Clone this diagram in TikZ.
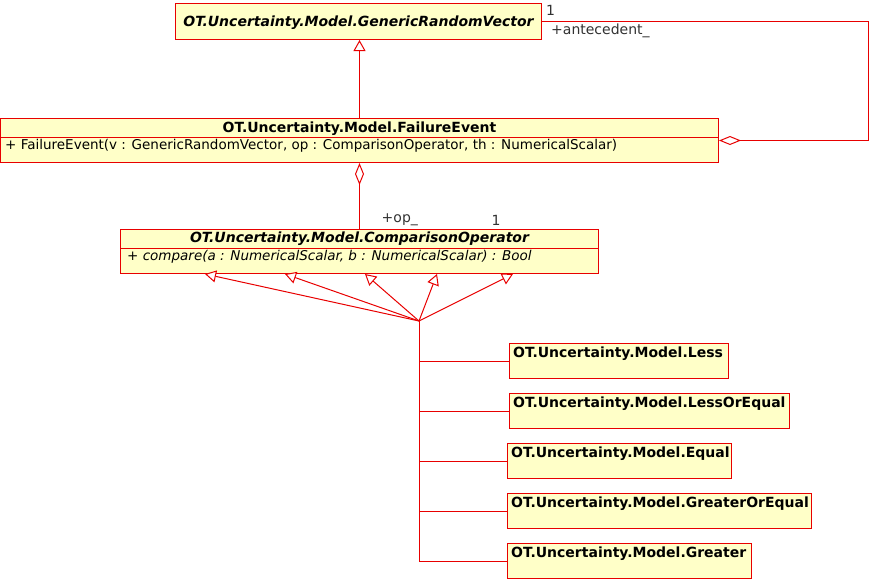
\documentclass[tikz,border=0pt]{standalone}
\usepackage{fontspec}
\setmainfont{DejaVu Sans}
\usetikzlibrary{arrows.meta, positioning, calc}
\definecolor{umlred}{RGB}{232, 0, 0}
\definecolor{umlfill}{RGB}{255, 255, 200}
\definecolor{rolegrey}{RGB}{50, 50, 50}

\tikzset{
  classbox/.style={draw=umlred, line width=1pt, fill=umlfill, rectangle, inner sep=0pt, anchor=north west},
  classname/.style={font=\bfseries\fontsize{14}{16}\selectfont, inner sep=0pt, anchor=base},
  absname/.style={font=\bfseries\itshape\fontsize{14}{16}\selectfont, inner sep=0pt, anchor=base},
  opname/.style={font=\fontsize{13.5}{16}\selectfont, inner sep=0pt, anchor=base west},
  rolelabel/.style={font=\fontsize{14}{16}\selectfont, text=rolegrey, inner sep=0pt},
  link/.style={draw=umlred, line width=1pt},
  gen/.style={link, -{Triangle[open, length=11pt, width=12pt, fill=white]}},
  aggr/.style={link, {Diamond[open, length=22pt, width=9pt, fill=white]}-}
}

\begin{document}
\begin{tikzpicture}[x=1pt, y=-1pt]
  \useasboundingbox (0,0) rectangle (870,579);

  % abstract base classes
  \node[classbox, minimum width=366pt, minimum height=36pt] (grv) at (175,3) {};
  \node[absname] at ($(grv.north)+(0,23)$) {OT.Uncertainty.Model.GenericRandomVector};

  \node[classbox, minimum width=718pt, minimum height=44pt] (fe) at (0,118) {};
  \draw[umlred, line width=1pt] ($(fe.north west)+(0,19)$) -- ($(fe.north east)+(0,19)$);
  \node[classname] at ($(fe.north)+(0,14)$) {OT.Uncertainty.Model.FailureEvent};
  \node[opname] at ($(fe.north west)+(5,31)$) {+ FailureEvent(v : GenericRandomVector, op : ComparisonOperator, th : NumericalScalar)};

  \node[classbox, minimum width=478pt, minimum height=44pt] (cmp) at (120,229) {};
  \draw[umlred, line width=1pt] ($(cmp.north west)+(0,19)$) -- ($(cmp.north east)+(0,19)$);
  \node[absname] at ($(cmp.north)+(0,13.5)$) {OT.Uncertainty.Model.ComparisonOperator};
  \node[opname, font=\itshape\fontsize{13.5}{16}\selectfont] at ($(cmp.north west)+(7,31)$) {+ compare(a : NumericalScalar, b : NumericalScalar) : Bool};

  % concrete operators
  \foreach \name/\x/\y/\w/\txt in {less/509/343/219/Less, leq/509/393/280/LessOrEqual,
      eq/507/443/224/Equal, geq/507/493/304/GreaterOrEqual, gt/507/543/244/Greater}{
    \node[classbox, minimum width=\w pt, minimum height=35pt] (\name) at (\x,\y) {};
    \node[classname, anchor=base west] at ($(\name.north west)+(4,14)$) {OT.Uncertainty.Model.\txt};
  }

  % relations
  \draw[gen] (fe.north) -- (fe.north |- grv.south);
  \coordinate (loop) at (868,0);
  \draw[aggr] (fe.east) -| (loop |- grv.east) -- (grv.east);
  \node[rolelabel, anchor=west] at ($(grv.east)+(4,-11)$) {1};
  \node[rolelabel, anchor=west] at ($(grv.east)+(9,9)$) {+antecedent\_};

  \draw[aggr] (fe.south) -- (fe.south |- cmp.north);
  \node[rolelabel, anchor=west] at ($(cmp.north)+(22,-9)$) {+op\_};
  \node[rolelabel, anchor=west] at ($(cmp.north)+(132,-9)$) {1};

  \coordinate (fork) at (419,321);
  \foreach \dx in {85,165,245,317,393}{
    \draw[gen] (fork) -- ($(cmp.south west)+(\dx,0)$);
  }
  \draw[link] (fork) |- (gt.west);
  \foreach \name in {less,leq,eq,geq}{
    \draw[link] (fork |- \name.west) -- (\name.west);
  }
\end{tikzpicture}
\end{document}
